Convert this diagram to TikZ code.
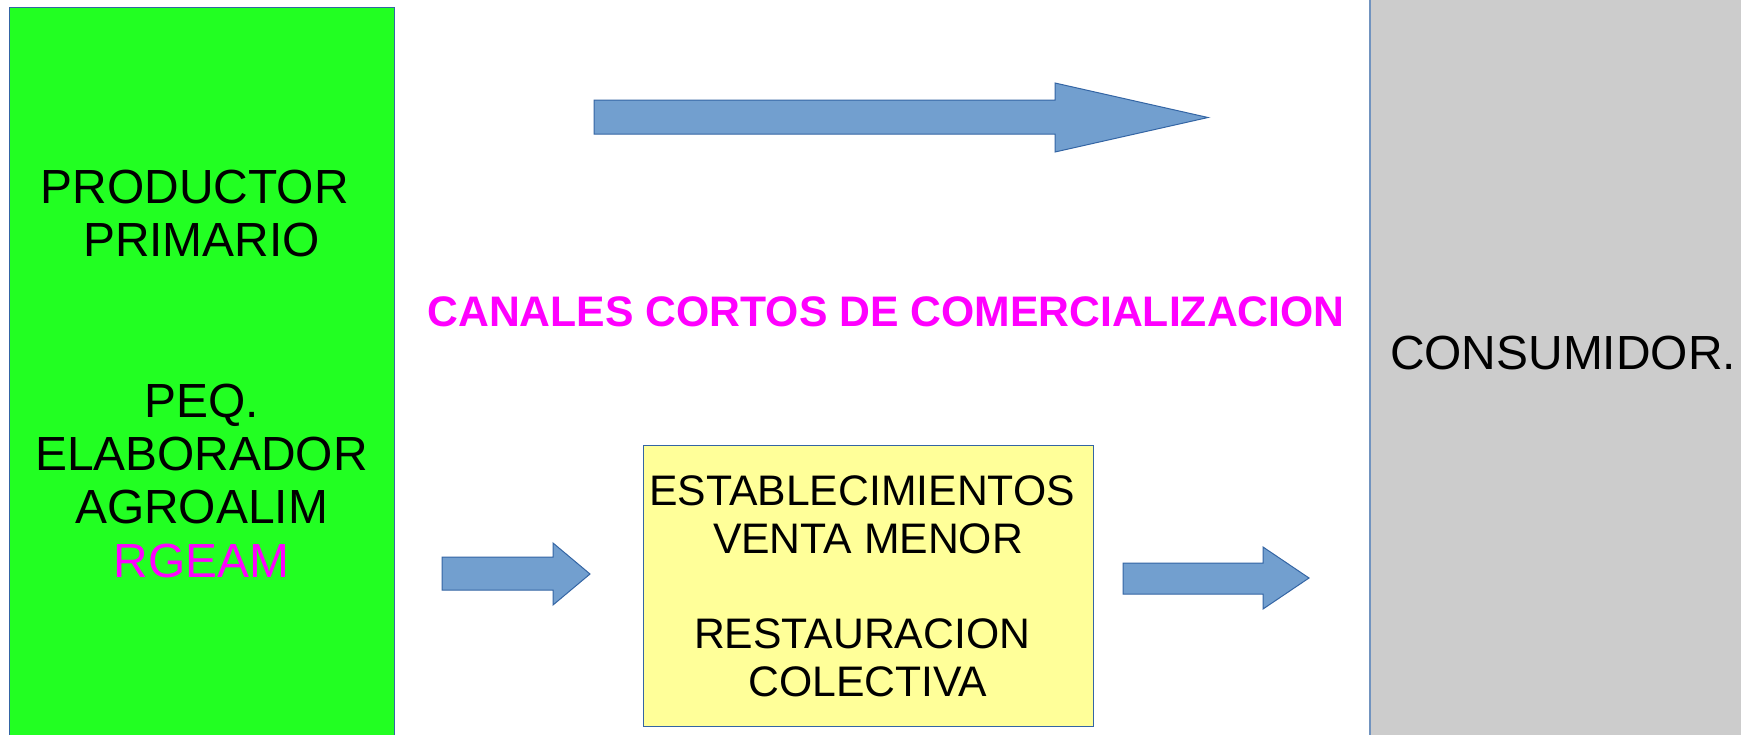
\documentclass[tikz,border=0pt]{standalone}
\usepackage{fontspec}
\setmainfont{Liberation Sans}
\definecolor{boxgreen}{HTML}{22FF22}
\definecolor{boxgrey}{HTML}{CCCCCC}
\definecolor{boxyellow}{HTML}{FFFF99}
\definecolor{arrowfill}{HTML}{729FCF}
\definecolor{arrowline}{HTML}{3465A4}
\definecolor{pinklabel}{HTML}{FF00FF}
\begin{document}
\begin{tikzpicture}[x=1pt,y=-1pt,
  panel/.style={draw=arrowline, line width=1pt, inner sep=0pt, anchor=north west},
  blockarrow/.style={fill=arrowfill, draw=arrowline, line width=1pt, line join=miter},
  bigtext/.style={inner sep=0pt, align=center, font=\fontsize{47.9}{53.4}\selectfont},
  midtext/.style={inner sep=0pt, align=center, font=\fontsize{42.7}{47.75}\selectfont}]
\clip (0,0) rectangle (1741,734);
\fill[white] (0,0) rectangle (1741,734);
% panels
\node[panel, fill=boxgreen, minimum width=385pt, minimum height=740pt] (prod) at (9,7) {};
\node[panel, fill=boxyellow, minimum width=450pt, minimum height=281pt] (shop) at (643,445) {};
\node[panel, draw=none, fill=boxgrey, minimum width=380pt, minimum height=745pt] (cons) at (1370,-5) {};
\draw[arrowline!70, line width=2pt] (cons.north west) -- (cons.south west);
% texts
\node[bigtext] (prodtext) at (201.5,374) {PRODUCTOR\ \mbox{}\\PRIMARIO\\\mbox{}\\\mbox{}\\PEQ.\\ELABORADOR\\AGROALIM\\\textcolor{pinklabel}{RGEAM}};
\node[midtext] (shoptext) at (868,586.5) {ESTABLECIMIENTOS\ \mbox{}\\VENTA MENOR\\\mbox{}\\RESTAURACION\ \mbox{}\\COLECTIVA};
\node[inner sep=0pt, text=pinklabel, font=\bfseries\fontsize{42.7}{50}\selectfont] (canales) at (886,312) {CANALES CORTOS DE COMERCIALIZACION};
\node[inner sep=0pt, font=\fontsize{47.9}{53.4}\selectfont] (constext) at (1563,353) {CONSUMIDOR.};
% block arrows
\draw[blockarrow] (594,100) -- (1055,100) -- (1055,83) -- (1208,117.5) -- (1055,152) -- (1055,134) -- (594,134) -- cycle;
\draw[blockarrow] (442,557) -- (553,557) -- (553,543) -- (590,574) -- (553,605) -- (553,590) -- (442,590) -- cycle;
\draw[blockarrow] (1123,563) -- (1263,563) -- (1263,547) -- (1309,578) -- (1263,609) -- (1263,594) -- (1123,594) -- cycle;
\end{tikzpicture}
\end{document}
